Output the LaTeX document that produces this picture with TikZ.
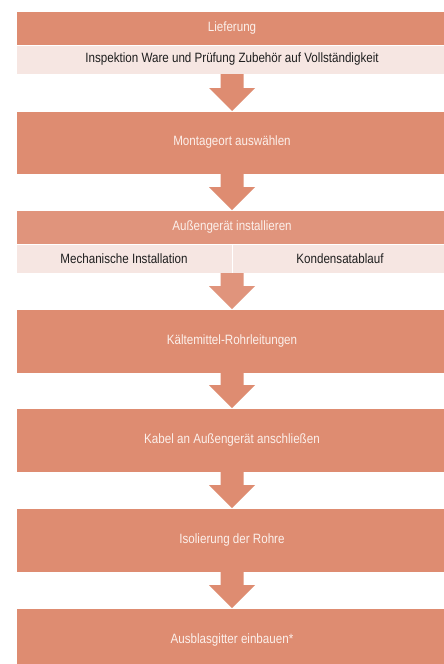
\documentclass[tikz,border=0pt]{standalone}
\usepackage{fontspec}
\setmainfont{Liberation Sans}[FakeStretch=0.86]
\usetikzlibrary{calc}
\definecolor{boxdark}{RGB}{222,140,113}
\definecolor{boxmid}{RGB}{224,148,124}
\definecolor{boxlight}{RGB}{246,230,226}
\definecolor{txtlight}{RGB}{252,240,235}
\definecolor{txtdark}{RGB}{30,30,30}
\newcommand\flowarrow[3][boxdark]{%
  \fill[#1] ($(#2.south)+(-11.5,0)$) -- ($(#3.north)+(-11.5,23)$) -- ($(#3.north)+(-23,23)$)
    -- (#3.north) -- ($(#3.north)+(23,23)$) -- ($(#3.north)+(11.5,23)$)
    -- ($(#2.south)+(11.5,0)$) -- cycle;}
\begin{document}
\begin{tikzpicture}[x=1pt,y=1pt,
  every node/.style={inner sep=0pt,outer sep=0pt,font=\fontsize{13.5}{15}\selectfont},
  darkbox/.style={rectangle,fill=boxdark,draw=white,line width=0.6pt,anchor=north west,minimum width=432pt,text=txtlight},
  lightbox/.style={rectangle,fill=boxlight,draw=white,line width=0.6pt,anchor=north west,text=txtdark}]
\useasboundingbox (0,0) rectangle (444,-664);
\fill[white] (0,0) rectangle (444,-664);
\node[darkbox,minimum height=34pt] (b1) at (16,-11) {Lieferung};
\node[lightbox,minimum width=432pt,minimum height=29pt] (l1) at (16,-45) {Inspektion Ware und Prüfung Zubehör auf Vollständigkeit};
\node[darkbox,minimum height=63pt] (b2) at (16,-111) {Montageort auswählen};
\node[darkbox,fill=boxmid,minimum height=34pt] (b3) at (16,-210) {Außengerät installieren};
\node[lightbox,minimum width=216pt,minimum height=29pt] (l3a) at (16,-244) {Mechanische Installation};
\node[lightbox,minimum width=216pt,minimum height=29pt] (l3b) at (232,-244) {Kondensatablauf};
\coordinate (l3) at ($(l3a.south east)!0.5!(l3b.south west)$);
\node[darkbox,minimum height=64pt] (b4) at (16,-309) {Kältemittel-Rohrleitungen};
\node[darkbox,minimum height=64pt] (b5) at (16,-408) {Kabel an Außengerät anschließen};
\node[darkbox,minimum height=64pt] (b6) at (16,-508) {Isolierung der Rohre};
\node[darkbox,minimum height=64pt] (b7) at (16,-608) {Ausblasgitter einbauen*};
\flowarrow{l1}{b2}
\flowarrow{b2}{b3}
\coordinate (l3s) at ($(l3a.south)!0.5!(l3b.south)$);
\node[coordinate] (l3c) at (l3s) {};
\fill[boxmid] ($(l3s)+(-11.5,0)$) -- ($(b4.north)+(-11.5,23)$) -- ($(b4.north)+(-23,23)$)
    -- (b4.north) -- ($(b4.north)+(23,23)$) -- ($(b4.north)+(11.5,23)$)
    -- ($(l3s)+(11.5,0)$) -- cycle;
\flowarrow{b4}{b5}
\flowarrow{b5}{b6}
\flowarrow{b6}{b7}
\end{tikzpicture}
\end{document}
